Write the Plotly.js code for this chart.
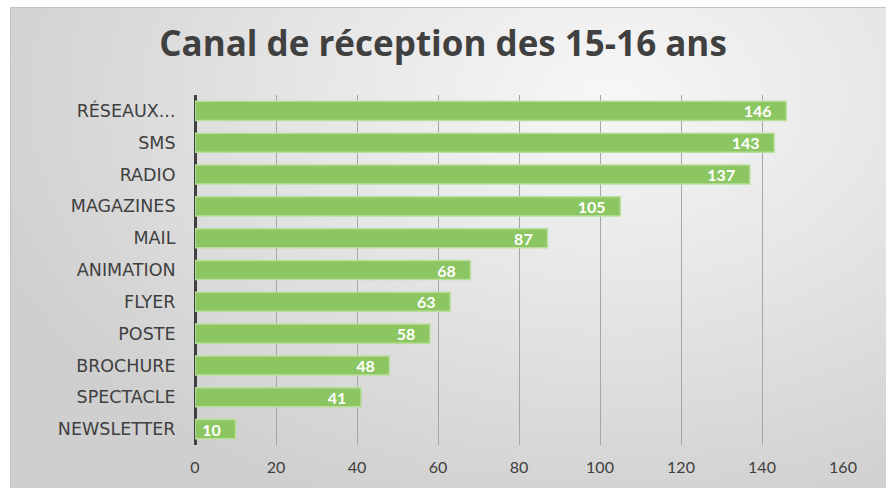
<!DOCTYPE html>
<html>
<head>
<meta charset="utf-8">
<script src="https://cdn.plot.ly/plotly-3.0.1.min.js"></script>
<style>
  html, body { margin: 0; padding: 0; background: #ffffff; width: 886px; height: 488px; overflow: hidden; }
  #bg { position: absolute; left: 10px; top: 7px; width: 880px; height: 490px;
        border-top: 1px solid #c4c4c4; border-left: 1px solid #c4c4c4;
        background: radial-gradient(ellipse 75% 90% at 68% 18%, #f7f7f7 0%, #e6e6e6 45%, #cfcfcf 100%); }
  #chart { position: absolute; left: 0; top: 0; width: 886px; height: 488px; }
</style>
</head>
<body>
<div id="bg"></div>
<div id="chart"></div>
<script>
const categories = ["RÉSEAUX...", "SMS", "RADIO", "MAGAZINES", "MAIL", "ANIMATION", "FLYER", "POSTE", "BROCHURE", "SPECTACLE", "NEWSLETTER"];
const values = [146, 143, 137, 105, 87, 68, 63, 58, 48, 41, 10];
const xTickValues = [0, 20, 40, 60, 80, 100, 120, 140, 160];
const chartTitle = "Canal de réception des 15-16 ans";

const trace = {
  type: "bar",
  orientation: "h",
  y: categories,
  x: values,
  text: values.map(v => String(v) + "\u00a0\u00a0\u00a0"),
  textposition: "inside",
  insidetextanchor: "end",
  constraintext: "none",
  textangle: 0,
  textfont: { family: "Lato, 'Open Sans', sans-serif", size: 16, color: "#ffffff", weight: "bold" },
  marker: { color: "#8cc663", line: { color: "#b9de9c", width: 1.5 } },
  hoverinfo: "none",
  cliponaxis: false
};

const layout = {
  width: 886, height: 488,
  paper_bgcolor: "rgba(0,0,0,0)",
  plot_bgcolor: "rgba(0,0,0,0)",
  margin: { l: 195, r: 43, t: 95, b: 43 },
  title: {
    text: "<b>" + chartTitle + "</b>",
    font: { family: "'Open Sans', Lato, sans-serif", size: 35, color: "#404040" },
    x: 0.5, xanchor: "center", y: 0.91, yanchor: "middle"
  },
  bargap: 0.4,
  showlegend: false,
  xaxis: {
    range: [0, 160],
    tickvals: xTickValues,
    ticktext: xTickValues.map(String),
    showgrid: true, gridcolor: "#a6a6a6", gridwidth: 1,
    zeroline: true, zerolinecolor: "#404040", zerolinewidth: 3,
    showline: false,
    ticks: "outside", ticklen: 8, tickcolor: "rgba(0,0,0,0)",
    tickfont: { family: "Lato, 'Open Sans', sans-serif", size: 16, color: "#404040" },
    fixedrange: true
  },
  yaxis: {
    type: "category",
    autorange: "reversed",
    showgrid: false, zeroline: false, showline: false,
    ticks: "outside", ticklen: 15, tickcolor: "rgba(0,0,0,0)",
    tickfont: { family: "'DejaVu Sans', sans-serif", size: 17.5, color: "#404040" },
    fixedrange: true
  }
};

Plotly.newPlot("chart", [trace], layout, { displayModeBar: false, staticPlot: true });
</script>
</body>
</html>
